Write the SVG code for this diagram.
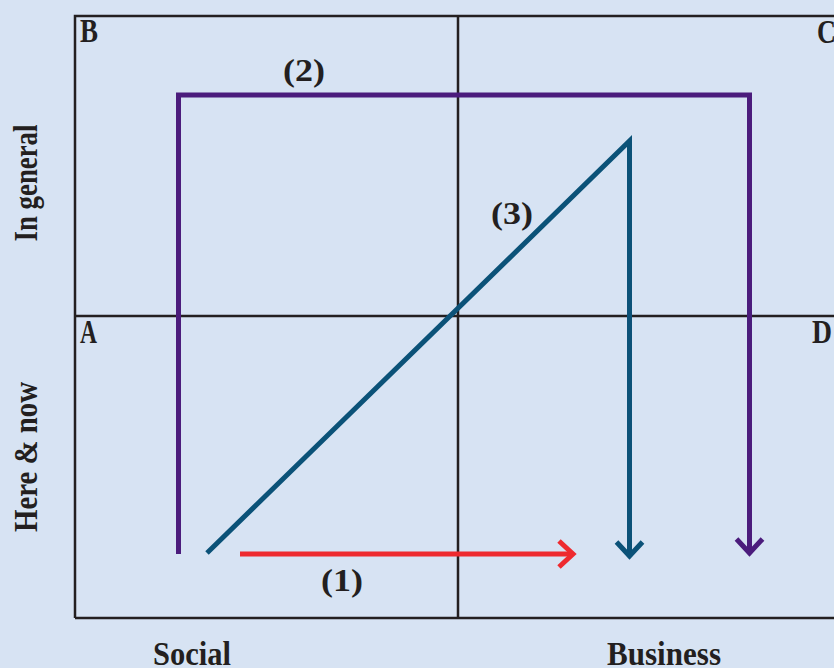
<svg xmlns="http://www.w3.org/2000/svg" width="834" height="668" viewBox="0 0 834 668">
<defs>
<style>
.lbl{font-family:"Liberation Serif","Times New Roman",serif;font-weight:bold;fill:#231f20}
.grid{stroke:#231f20;stroke-width:2.5;fill:none}
.purple{stroke:#4b1c7c;stroke-width:5;fill:none}
.blue{stroke:#0b5278;stroke-width:5;fill:none}
.red{stroke:#ee2a2f;stroke-width:5;fill:none}
</style>
<marker id="ahP" markerUnits="userSpaceOnUse" markerWidth="40" markerHeight="40" refX="0" refY="0" orient="auto" overflow="visible" viewBox="-20 -20 40 40"><path d="M-14,-13 L0,0 L-14,13" fill="none" stroke="#4b1c7c" stroke-width="5"/></marker>
<marker id="ahB" markerUnits="userSpaceOnUse" markerWidth="40" markerHeight="40" refX="0" refY="0" orient="auto" overflow="visible" viewBox="-20 -20 40 40"><path d="M-14,-13 L0,0 L-14,13" fill="none" stroke="#0b5278" stroke-width="5"/></marker>
<marker id="ahR" markerUnits="userSpaceOnUse" markerWidth="40" markerHeight="40" refX="0" refY="0" orient="auto" overflow="visible" viewBox="-20 -20 40 40"><path d="M-14,-13 L0,0 L-14,13" fill="none" stroke="#ee2a2f" stroke-width="5"/></marker>
</defs>
<rect width="834" height="668" fill="#d7e3f3"/>
<g id="grid">
<path class="grid" d="M75,618 L75,16 L840,16 M75,618 L840,618 M458,16 L458,618 M75,316 L840,316"/>
</g>
<g id="quadrant-labels" class="lbl" font-size="34">
<text id="B" x="80" y="42" textLength="18" lengthAdjust="spacingAndGlyphs">B</text>
<text id="C" x="817" y="43" textLength="19" lengthAdjust="spacingAndGlyphs">C</text>
<text id="A" x="80" y="343" textLength="17" lengthAdjust="spacingAndGlyphs">A</text>
<text id="D" x="812" y="343" textLength="20" lengthAdjust="spacingAndGlyphs">D</text>
</g>
<g id="axis-labels" class="lbl" font-size="34">
<text id="social" x="153" y="665" textLength="78" lengthAdjust="spacingAndGlyphs">Social</text>
<text id="business" x="607" y="665" textLength="114" lengthAdjust="spacingAndGlyphs">Business</text>
<text id="in-general" transform="translate(37,183) rotate(-90)" text-anchor="middle" textLength="117" lengthAdjust="spacingAndGlyphs">In general</text>
<text id="here-now" transform="translate(37,457) rotate(-90)" text-anchor="middle" textLength="150" lengthAdjust="spacingAndGlyphs">Here &amp; now</text>
</g>
<g id="connectors">
<path id="path2" class="purple" d="M178.5,554 L178.5,95 L749.5,95 L749.5,553" marker-end="url(#ahP)"/>
<path id="path3" class="blue" d="M207,553 L629.5,141 L629.5,556" marker-end="url(#ahB)"/>
<path id="path1" class="red" d="M240,554 L573,554" marker-end="url(#ahR)"/>
</g>
<g id="path-labels" class="lbl" font-size="32" text-anchor="middle">
<text id="lbl2" x="304" y="81" textLength="42" lengthAdjust="spacingAndGlyphs">(2)</text>
<text id="lbl3" x="512" y="224" textLength="42" lengthAdjust="spacingAndGlyphs">(3)</text>
<text id="lbl1" x="342" y="591" textLength="42" lengthAdjust="spacingAndGlyphs">(1)</text>
</g>
</svg>
